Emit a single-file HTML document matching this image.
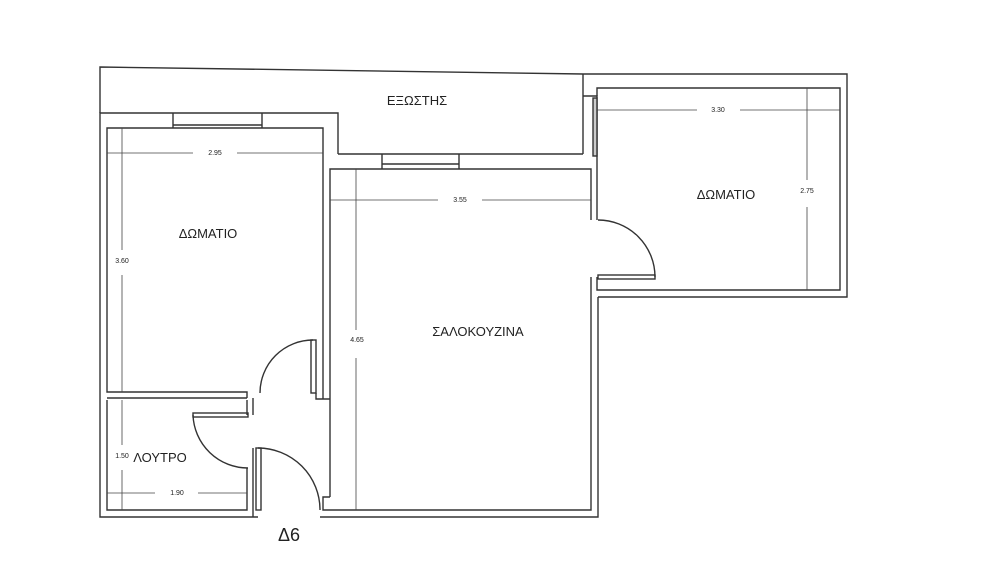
<!DOCTYPE html>
<html><head><meta charset="utf-8"><style>
html,body{margin:0;padding:0;background:#fff;}
svg{display:block;}
text{font-family:"Liberation Sans",sans-serif;fill:#222;}
</style></head><body>
<svg width="1000" height="584" viewBox="0 0 1000 584" xmlns="http://www.w3.org/2000/svg">
<rect width="1000" height="584" fill="#fff"/>
<g stroke="#333" stroke-width="1.4" fill="none">
<!-- balcony -->
<polyline points="100,113 100,67 583,74"/>
<line x1="583" y1="74" x2="583" y2="154"/>
<!-- left room outer -->
<polyline points="338,154 338,113 100,113 100,517 258,517"/>
<!-- left room inner -->
<polyline points="323,399 323,128 107,128 107,392 247,392 247,398"/>
<!-- window left -->
<line x1="173" y1="113" x2="173" y2="128"/><line x1="262" y1="113" x2="262" y2="128"/>
<line x1="173" y1="125" x2="262" y2="125"/>
<!-- salon top -->
<line x1="338" y1="154" x2="583" y2="154"/>
<polyline points="330,497 330,169 591,169 591,220"/>
<!-- window salon -->
<line x1="382" y1="154" x2="382" y2="169"/><line x1="459" y1="154" x2="459" y2="169"/>
<line x1="382" y1="164" x2="459" y2="164"/>
<!-- salon bottom/right -->
<polyline points="320,517 598,517 598,297"/>
<polyline points="330,497 323,497 323,510 591,510 591,277"/>
<polyline points="316,393 316,399 330,399"/>
<!-- right room -->
<polyline points="583,96 597,96 597,220"/>
<polyline points="583,74 847,74 847,297 598,297"/>
<polyline points="597,277 597,290 840,290 840,88 597,88 597,96"/>
<rect x="593" y="98" width="4" height="58" fill="#ccc"/>
<!-- bathroom -->
<polyline points="107,398 247,398"/>
<polyline points="107,400 107,510 247,510 247,468"/>
<polyline points="247,400 247,415"/>
<line x1="253" y1="398" x2="253" y2="415"/>
<polyline points="253,448 253,517"/>
<!-- doors -->
<rect x="311" y="340" width="5" height="53"/>
<path d="M313,340 A53,53 0 0 0 260,393"/>
<rect x="193" y="413" width="55" height="4"/>
<path d="M193,415 A55,55 0 0 0 248,468"/>
<rect x="256" y="448" width="5" height="62"/>
<path d="M258,448 A62,62 0 0 1 320,510"/>
<rect x="598" y="275" width="57" height="4"/>
<path d="M598,220 A57,57 0 0 1 655,277"/>
</g>
<!-- dimensions -->
<g stroke="#444" stroke-width="0.8">
<line x1="107" y1="153" x2="193" y2="153"/><line x1="237" y1="153" x2="323" y2="153"/>
<line x1="122" y1="128" x2="122" y2="250"/><line x1="122" y1="275" x2="122" y2="392"/>
<line x1="330" y1="200" x2="438" y2="200"/><line x1="482" y1="200" x2="591" y2="200"/>
<line x1="356" y1="169" x2="356" y2="330"/><line x1="356" y1="358" x2="356" y2="510"/>
<line x1="597" y1="110" x2="697" y2="110"/><line x1="740" y1="110" x2="840" y2="110"/>
<line x1="807" y1="88" x2="807" y2="180"/><line x1="807" y1="207" x2="807" y2="290"/>
<line x1="122" y1="400" x2="122" y2="445"/><line x1="122" y1="470" x2="122" y2="510"/>
<line x1="107" y1="493" x2="155" y2="493"/><line x1="198" y1="493" x2="247" y2="493"/>
</g>
<g font-size="7" text-anchor="middle">
<text x="215" y="155">2.95</text>
<text x="122" y="263">3.60</text>
<text x="460" y="202">3.55</text>
<text x="357" y="342">4.65</text>
<text x="718" y="112">3.30</text>
<text x="807" y="193">2.75</text>
<text x="122" y="458">1.50</text>
<text x="177" y="495">1.90</text>
</g>
<g font-size="13" text-anchor="middle">
<text x="417" y="105">ΕΞΩΣΤΗΣ</text>
<text x="208" y="238">ΔΩΜΑΤΙΟ</text>
<text x="478" y="336">ΣΑΛΟΚΟΥΖΙΝΑ</text>
<text x="726" y="199">ΔΩΜΑΤΙΟ</text>
<text x="160" y="462">ΛΟΥΤΡΟ</text>
</g>
<text x="289" y="541" font-size="18" text-anchor="middle">Δ6</text>
</svg>
</body></html>
